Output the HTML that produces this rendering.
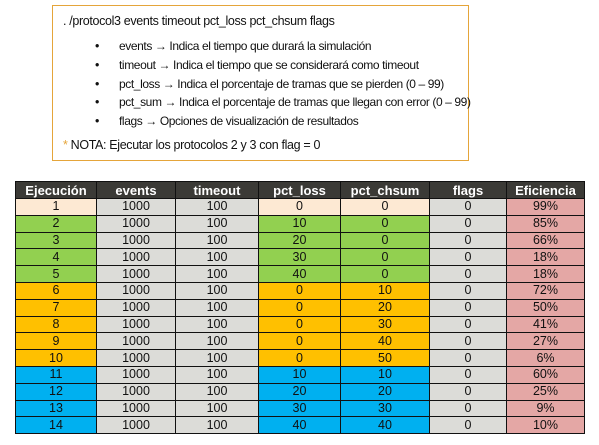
<!DOCTYPE html>
<html><head><meta charset="utf-8"><style>
body{margin:0;width:599px;height:445px;background:#fff;font-family:"Liberation Sans",sans-serif;position:relative;overflow:hidden}
#box{position:absolute;left:52px;top:5px;width:415px;height:154px;border:1.5px solid #e5a53a;font-size:12.5px;letter-spacing:-0.35px;color:#111}
#box div{position:absolute;white-space:nowrap}
.b{left:42px}
.t{left:66px;font-size:12px;letter-spacing:-0.4px}
table{position:absolute;left:15px;top:181px;border-collapse:collapse;font-size:12.5px;color:#111}
td,th{border:1px solid #111;padding:0;text-align:center;height:15.8px;line-height:15px}
th{background:#3b3a36;color:#fff;font-weight:bold;font-size:13px;height:16px}
.g{background:#dcdcd8}.p{background:#e4a7a5}.c{background:#fde9d3}.gr{background:#92d050}.o{background:#ffc000}.bl{background:#00b0f0}
</style></head><body>
<div id="box">
<div style="left:10px;top:8px">. /protocol3 events timeout pct_loss pct_chsum flags</div>
<div class="b" style="top:33px">•</div><div class="t" style="top:33px">events → Indica el tiempo que durará la simulación</div>
<div class="b" style="top:52px">•</div><div class="t" style="top:52px">timeout → Indica el tiempo que se considerará como timeout</div>
<div class="b" style="top:71px">•</div><div class="t" style="top:71px">pct_loss → Indica el porcentaje de tramas que se pierden (0 – 99)</div>
<div class="b" style="top:89px">•</div><div class="t" style="top:89px">pct_sum → Indica el porcentaje de tramas que llegan con error (0 – 99)</div>
<div class="b" style="top:108px">•</div><div class="t" style="top:108px">flags → Opciones de visualización de resultados</div>
<div style="left:10px;top:132px"><span style="color:#e5a53a">*</span> NOTA: Ejecutar los protocolos 2 y 3 con flag = 0</div>
</div>
<table>
<colgroup><col style="width:81px"><col style="width:79px"><col style="width:83px"><col style="width:82px"><col style="width:89px"><col style="width:77px"><col style="width:78px"></colgroup>
<tr><th>Ejecución</th><th>events</th><th>timeout</th><th>pct_loss</th><th>pct_chsum</th><th>flags</th><th>Eficiencia</th></tr>
<tbody id="tb"></tbody>
</table>
<script>
const runs=[1,2,3,4,5,6,7,8,9,10,11,12,13,14];
const loss=[0,10,20,30,40,0,0,0,0,0,10,20,30,40];
const chsum=[0,0,0,0,0,10,20,30,40,50,10,20,30,40];
const eff=["99%","85%","66%","18%","18%","72%","50%","41%","27%","6%","60%","25%","9%","10%"];
const tb=document.getElementById('tb');
runs.forEach((r,i)=>{
  const cls=i==0?'c':i<5?'gr':i<10?'o':'bl';
  const tr=document.createElement('tr');
  
  
  tr.innerHTML=`<td class="${cls}">${r}</td><td class="g">1000</td><td class="g">100</td><td class="${cls}">${loss[i]}</td><td class="${cls}">${chsum[i]}</td><td class="g">0</td><td class="p">${eff[i]}</td>`;
  tb.appendChild(tr);
});
</script>
</body></html>
